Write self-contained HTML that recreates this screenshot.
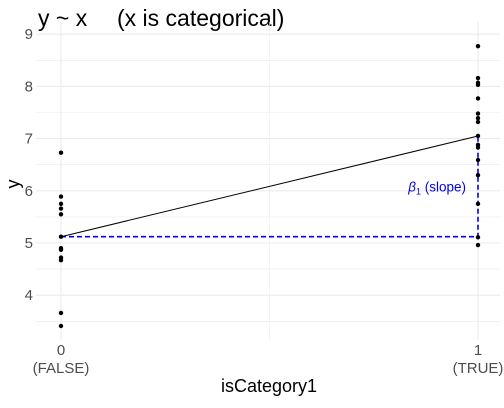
<!DOCTYPE html>
<html><head><meta charset="utf-8"><style>
body{margin:0;background:#fff;font-family:"Liberation Sans",sans-serif;}
svg text{font-family:"Liberation Sans",sans-serif;}
</style></head><body>
<svg id="c" width="504" height="403">
<text x="38" y="26" font-size="23" fill="#000">y ~ x<tspan x="117">(x is categorical)</tspan></text>
<text x="269" y="392" font-size="18" text-anchor="middle">isCategory1</text>
<text transform="translate(19,184) rotate(-90)" font-size="18" text-anchor="middle">y</text>
<g id="grid"></g><g id="marks"></g>
</svg>
<script>
const categories=[0,1];
const catLabels=["(FALSE)","(TRUE)"];
const yTicks=[4,5,6,7,8,9];
const groupFalse=[6.73,5.89,5.75,5.66,5.55,5.12,4.90,4.87,4.72,4.67,3.66,3.41];
const groupTrue=[8.77,8.16,8.07,8.03,7.77,7.48,7.39,7.32,7.05,6.88,6.83,6.59,6.30,5.75,5.11,4.96];
const groupMeans=[5.12,7.05];
const NS="http://www.w3.org/2000/svg";
const xs=v=>61+v*417, ys=v=>243-(v-5)*52.2;
const grid=document.getElementById('grid'), marks=document.getElementById('marks');
function mk(p,tag,a){const e=document.createElementNS(NS,tag);for(const k in a)e.setAttribute(k,a[k]);p.appendChild(e);return e;}
for(let v=3.5;v<=9;v+=0.5){const l=mk(grid,'line',{x1:36,x2:500,y1:ys(v),y2:ys(v),stroke:'#ebebeb','stroke-width':v%1?0.6:1.1});

}
[0,0.5,1].forEach(v=>{const l=mk(grid,'line',{x1:xs(v),x2:xs(v),y1:22,y2:340,stroke:'#ebebeb','stroke-width':v===0.5?0.6:1.1});

});
yTicks.forEach(v=>{const t=mk(grid,'text',{x:33,y:ys(v)+5,'text-anchor':'end','font-size':15,fill:'#4d4d4d'});t.textContent=v;

});
categories.forEach((c,i)=>{const t=mk(grid,'text',{x:xs(c),y:355,'text-anchor':'middle','font-size':15,fill:'#4d4d4d'});t.textContent=c;


const t2=mk(grid,'text',{x:xs(c),y:373,'text-anchor':'middle','font-size':15,fill:'#4d4d4d'});t2.textContent=catLabels[i];

});
const m0=groupMeans[0], m1=groupMeans[1];
const d=mk(marks,'polyline',{points:`${xs(0)},${ys(m0)} ${xs(1)},${ys(m0)} ${xs(1)},${ys(m1)}`,fill:'none',stroke:'#0000ee','stroke-width':1.6,'stroke-dasharray':'5,3'});


const ln=mk(marks,'line',{x1:xs(0),y1:ys(m0),x2:xs(1),y2:ys(m1),stroke:'#000','stroke-width':1});


[[0,groupFalse],[1,groupTrue]].forEach(([c,arr])=>arr.forEach(v=>{const p=mk(marks,'circle',{cx:xs(c),cy:ys(v),r:2.2,fill:'#000'});

}));
const lab=mk(marks,'text',{x:466,y:ys((m0+m1)/2)+5,'text-anchor':'end','font-size':13.5,fill:'#0000ee'});
lab.innerHTML='<tspan font-style="italic">β</tspan><tspan font-size="9" dy="3">1</tspan><tspan dy="-3"> (slope)</tspan>';


</script>
</body></html>
